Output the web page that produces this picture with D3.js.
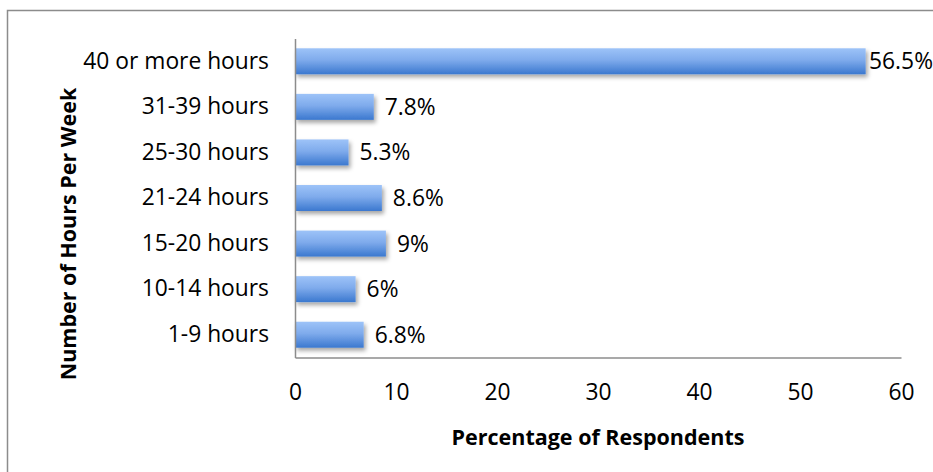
<!DOCTYPE html>
<html>
<head>
<meta charset="utf-8">
<script src="https://cdn.jsdelivr.net/npm/d3@7"></script>
<style>
  html, body { margin: 0; padding: 0; background: #fff; overflow: hidden; }
  svg { display: block; font-family: "Open Sans", sans-serif; }
</style>
</head>
<body>
<svg id="chart" width="933" height="472"></svg>
<script>
const categories = ["40 or more hours", "31-39 hours", "25-30 hours", "21-24 hours", "15-20 hours", "10-14 hours", "1-9 hours"];
const values = [56.5, 7.8, 5.3, 8.6, 9, 6, 6.8];
const valueLabels = ["56.5%", "7.8%", "5.3%", "8.6%", "9%", "6%", "6.8%"];
const xTicks = [0, 10, 20, 30, 40, 50, 60];
const xTitle = "Percentage of Respondents";
const yTitle = "Number of Hours Per Week";

const W = 933, H = 472;
const FONT = "'Open Sans', sans-serif";
const FS = 22.8;
const TFS = 21.5;
const svg = d3.select("#chart");

// outer frame
svg.append("rect")
  .attr("x", 7.5).attr("y", 10.5)
  .attr("width", 940).attr("height", 480)
  .attr("fill", "none").attr("stroke", "#8c8c8c").attr("stroke-width", 1.5);

const defs = svg.append("defs");
const grad = defs.append("linearGradient").attr("id", "barGrad")
  .attr("x1", 0).attr("y1", 0).attr("x2", 0).attr("y2", 1);
grad.append("stop").attr("offset", "0%").attr("stop-color", "#9dc3f8");
grad.append("stop").attr("offset", "45%").attr("stop-color", "#7fabec");
grad.append("stop").attr("offset", "100%").attr("stop-color", "#3b78cf");
const filt = defs.append("filter").attr("id", "shadow")
  .attr("x", "-10%").attr("y", "-30%").attr("width", "130%").attr("height", "180%");
filt.append("feDropShadow").attr("dx", 2).attr("dy", 3).attr("stdDeviation", 2.2)
  .attr("flood-color", "#000").attr("flood-opacity", 0.35);

const x = d3.scaleLinear().domain([0, 60]).range([295, 901]);
const y = d3.scaleBand().domain(categories).range([38.5, 357.5]).paddingInner(0.43).paddingOuter(0.215);

// bars
svg.append("g").selectAll("rect").data(categories).join("rect")
  .attr("x", x(0))
  .attr("y", d => y(d))
  .attr("width", (d, i) => x(values[i]) - x(0))
  .attr("height", y.bandwidth())
  .attr("fill", "url(#barGrad)")
  .attr("filter", "url(#shadow)");

// x axis
const xAxis = svg.append("g").attr("transform", "translate(0,357.5)")
  .call(d3.axisBottom(x).tickValues(xTicks).tickSize(0).tickPadding(0));
xAxis.select(".domain").attr("stroke", "#8c8c8c").attr("stroke-width", 1.5);
xAxis.selectAll("text").attr("font-size", FS).attr("fill", "#000")
  .attr("font-family", FONT)
  .attr("dy", null).attr("y", 42);

// y axis
const yAxis = svg.append("g").attr("transform", "translate(295,0)")
  .call(d3.axisLeft(y).tickSize(0).tickPadding(26));
yAxis.select(".domain").attr("stroke", "#8c8c8c").attr("stroke-width", 1.5);
yAxis.selectAll("text").attr("font-size", FS).attr("fill", "#000")
  .attr("font-family", FONT);

// value labels
const labels = svg.append("g").selectAll("text").data(categories).join("text")
  .attr("y", d => y(d) + y.bandwidth() / 2)
  .attr("dy", "0.35em")
  .attr("font-size", FS).attr("fill", "#000")
  .text((d, i) => valueLabels[i]);
labels.each(function(d, i) {
  const w = this.getComputedTextLength();
  const px = Math.min(x(values[i]) + 11, W - w);
  d3.select(this).attr("x", px);
});

// axis titles
svg.append("text").attr("x", 598).attr("y", 445)
  .attr("text-anchor", "middle").attr("font-size", TFS).attr("font-weight", "bold")
  .text(xTitle);
svg.append("text").attr("transform", "translate(76,234) rotate(-90)")
  .attr("text-anchor", "middle").attr("font-size", TFS).attr("font-weight", "bold")
  .text(yTitle);
</script>
</body>
</html>
